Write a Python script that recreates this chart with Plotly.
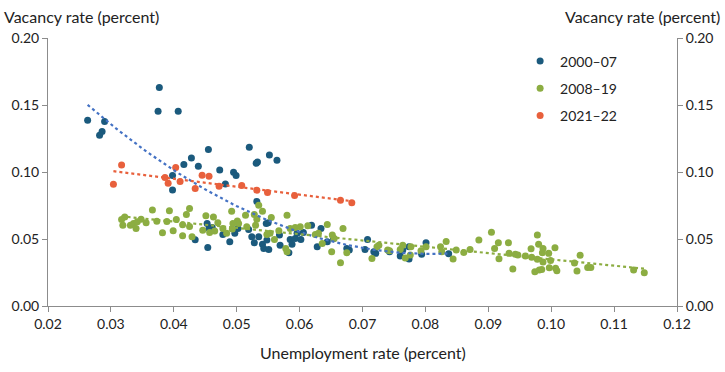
import numpy as np
import plotly.graph_objects as go

# ---- data (unemployment rate, vacancy rate) ----
u_2000_07 = [0.0263, 0.0377, 0.0375, 0.0407, 0.0290, 0.0286, 0.0282, 0.0455, 0.0520, 0.0552,
             0.0564, 0.0531, 0.0533, 0.0428, 0.0416, 0.0439, 0.0473, 0.0495, 0.0499, 0.0398,
             0.0398, 0.0482, 0.0532, 0.0434, 0.0454, 0.0453, 0.0456, 0.0461, 0.0478, 0.0489,
             0.0497, 0.0502, 0.0519, 0.0524, 0.0528, 0.0535, 0.0541, 0.0543, 0.0548, 0.0551,
             0.0547, 0.0550, 0.0568, 0.0569, 0.0583, 0.0585, 0.0588, 0.0593, 0.0596, 0.0602,
             0.0606, 0.0619, 0.0628, 0.0634, 0.0644, 0.0654, 0.0675, 0.0679, 0.0704, 0.0708,
             0.0718, 0.0721, 0.0743, 0.0760, 0.0764, 0.0774, 0.0774, 0.0794, 0.0801, 0.0837]
v_2000_07 = [0.1386, 0.1631, 0.1453, 0.1453, 0.1376, 0.1302, 0.1274, 0.1167, 0.1185, 0.1127,
             0.1088, 0.1065, 0.1075, 0.1105, 0.1056, 0.1043, 0.1015, 0.0998, 0.0974, 0.0974,
             0.0866, 0.0911, 0.0780, 0.0494, 0.0437, 0.0616, 0.0579, 0.0586, 0.0534, 0.0479,
             0.0542, 0.0579, 0.0571, 0.0516, 0.0472, 0.0516, 0.0460, 0.0430, 0.0492, 0.0422,
             0.0616, 0.0621, 0.0529, 0.0454, 0.0397, 0.0497, 0.0460, 0.0504, 0.0542, 0.0497,
             0.0549, 0.0603, 0.0442, 0.0579, 0.0479, 0.0504, 0.0430, 0.0417, 0.0422, 0.0497,
             0.0405, 0.0393, 0.0405, 0.0373, 0.0417, 0.0442, 0.0350, 0.0387, 0.0472, 0.0390]

u_2008_19 = [0.0317, 0.0322, 0.0319, 0.0331, 0.0336, 0.0340, 0.0342, 0.0348, 0.0356, 0.0366,
             0.0373, 0.0382, 0.0389, 0.0393, 0.0399, 0.0404, 0.0414, 0.0414, 0.0420, 0.0425,
             0.0425, 0.0429, 0.0446, 0.0451, 0.0457, 0.0463, 0.0465, 0.0470, 0.0478, 0.0484,
             0.0492, 0.0493, 0.0501, 0.0503, 0.0494, 0.0514, 0.0516, 0.0528, 0.0535, 0.0532,
             0.0530, 0.0541, 0.0555, 0.0553, 0.0548, 0.0560, 0.0567, 0.0580, 0.0578, 0.0580,
             0.0585, 0.0593, 0.0601, 0.0613, 0.0625, 0.0630, 0.0636, 0.0644, 0.0651, 0.0652,
             0.0665, 0.0669, 0.0655, 0.0675, 0.0715, 0.0723, 0.0726, 0.0740, 0.0743, 0.0760,
             0.0764, 0.0768, 0.0776, 0.0777, 0.0793, 0.0801, 0.0824, 0.0826, 0.0833, 0.0844,
             0.0849, 0.0861, 0.0871, 0.0885, 0.0905, 0.0910, 0.0916, 0.0917, 0.0932, 0.0933,
             0.0939, 0.0943, 0.0947, 0.0959, 0.0968, 0.0969, 0.0974, 0.0978, 0.0978, 0.0980,
             0.0981, 0.0985, 0.0986, 0.0987, 0.0987, 0.0996, 0.0997, 0.0999, 0.1006, 0.1007,
             0.1009, 0.1037, 0.1041, 0.1046, 0.1058, 0.1063, 0.1131, 0.1148]
v_2008_19 = [0.0646, 0.0665, 0.0603, 0.0603, 0.0616, 0.0579, 0.0628, 0.0648, 0.0621, 0.0717,
             0.0633, 0.0546, 0.0631, 0.0710, 0.0561, 0.0646, 0.0606, 0.0524, 0.0683, 0.0728,
             0.0594, 0.0516, 0.0566, 0.0673, 0.0549, 0.0665, 0.0559, 0.0621, 0.0579, 0.0542,
             0.0708, 0.0574, 0.0635, 0.0616, 0.0616, 0.0678, 0.0591, 0.0683, 0.0752, 0.0648,
             0.0603, 0.0708, 0.0661, 0.0542, 0.0534, 0.0497, 0.0561, 0.0678, 0.0430, 0.0405,
             0.0579, 0.0586, 0.0591, 0.0598, 0.0534, 0.0542, 0.0467, 0.0609, 0.0405, 0.0529,
             0.0323, 0.0579, 0.0504, 0.0397, 0.0355, 0.0442, 0.0454, 0.0417, 0.0412, 0.0422,
             0.0454, 0.0358, 0.0380, 0.0442, 0.0412, 0.0442, 0.0442, 0.0405, 0.0482, 0.0350,
             0.0417, 0.0400, 0.0422, 0.0492, 0.0551, 0.0430, 0.0472, 0.0352, 0.0472, 0.0393,
             0.0276, 0.0387, 0.0380, 0.0373, 0.0427, 0.0363, 0.0256, 0.0529, 0.0348, 0.0460,
             0.0268, 0.0273, 0.0397, 0.0430, 0.0328, 0.0393, 0.0285, 0.0340, 0.0434, 0.0281,
             0.0263, 0.0320, 0.0261, 0.0378, 0.0288, 0.0288, 0.0268, 0.0248]

u_2021_22 = [0.0317, 0.0304, 0.0403, 0.0386, 0.0391, 0.0410, 0.0434, 0.0445, 0.0456, 0.0472,
             0.0508, 0.0532, 0.0549, 0.0592, 0.0665, 0.0683]
v_2021_22 = [0.1053, 0.0909, 0.1033, 0.0959, 0.0916, 0.0929, 0.0877, 0.0976, 0.0969, 0.0894,
             0.0899, 0.0864, 0.0847, 0.0825, 0.0790, 0.0770]

series_names = ["2000\u201307", "2008\u201319", "2021\u201322"]
x_ticks = [0.02, 0.03, 0.04, 0.05, 0.06, 0.07, 0.08, 0.09, 0.10, 0.11, 0.12]
y_ticks = [0.00, 0.05, 0.10, 0.15, 0.20]

C_BLUE = "#1b5a7d"
C_GREEN = "#8cad42"
C_ORANGE = "#e8603c"
C_BLUE_TREND = "#4472c4"

FONT = "Lato, Open Sans, sans-serif"
TXT = "#222222"

fig = go.Figure()

def add_points(x, y, name, color):
    fig.add_trace(go.Scatter(x=x, y=y, mode="markers", name=name,
                             legendgroup=name,
                             marker=dict(color=color, size=7, line=dict(width=0))))

add_points(u_2000_07, v_2000_07, series_names[0], C_BLUE)
add_points(u_2008_19, v_2008_19, series_names[1], C_GREEN)
add_points(u_2021_22, v_2021_22, series_names[2], C_ORANGE)

# trend lines fitted from the data (polynomial least squares)
def poly_fit(x, y, deg):
    x = np.asarray(x); y = np.asarray(y)
    coef = np.polyfit(x, y, deg)
    xs = np.linspace(x.min(), x.max(), 120)
    return xs, np.polyval(coef, xs)

for (xs, ys), col in [(poly_fit(u_2000_07, v_2000_07, 2), C_BLUE_TREND),
                      (poly_fit(u_2008_19, v_2008_19, 1), C_GREEN),
                      (poly_fit(u_2021_22, v_2021_22, 1), C_ORANGE)]:
    fig.add_trace(go.Scatter(x=xs, y=ys, mode="lines", showlegend=False, hoverinfo="skip",
                             line=dict(color=col, width=2.2, dash="dot")))

# invisible trace to carry the right axis
fig.add_trace(go.Scatter(x=[0.02], y=[0.0], yaxis="y2", mode="markers",
                         marker=dict(opacity=0), showlegend=False, hoverinfo="skip"))

axis_common = dict(showline=True, linecolor="#8c8c8c", linewidth=1, ticks="outside",
                   tickcolor="#8c8c8c", ticklen=5, showgrid=False, zeroline=False,
                   tickfont=dict(family=FONT, size=14, color=TXT), tickformat=".2f")

L, T, PW, PH = 47.5, 37.5, 629.5, 268.5

def px_x(p):
    return (p - L) / PW

def px_y(p):
    return (T + PH - p) / PH

fig.update_layout(
    width=725, height=372,
    margin=dict(l=L, r=725 - L - PW, t=T, b=372 - T - PH),
    paper_bgcolor="white", plot_bgcolor="white",
    font=dict(family=FONT, size=14, color=TXT),
    xaxis=dict(range=[0.02, 0.12], tickvals=x_ticks, **axis_common),
    yaxis=dict(range=[0, 0.2], tickvals=y_ticks, **axis_common),
    yaxis2=dict(range=[0, 0.2], tickvals=y_ticks, overlaying="y", side="right", **axis_common),
    legend=dict(x=px_x(520), y=px_y(45), xanchor="left", yanchor="top",
                bgcolor="rgba(0,0,0,0)",
                font=dict(family=FONT, size=14, color=TXT), tracegroupgap=6,
                itemwidth=30),
    showlegend=True,
    annotations=[
        dict(text="Vacancy rate (percent)", xref="paper", yref="paper",
             x=px_x(1), y=px_y(16), xanchor="left", yanchor="middle",
             showarrow=False, font=dict(family=FONT, size=16, color=TXT)),
        dict(text="Vacancy rate (percent)", xref="paper", yref="paper",
             x=px_x(722), y=px_y(16), xanchor="right", yanchor="middle",
             showarrow=False, font=dict(family=FONT, size=16, color=TXT)),
        dict(text="Unemployment rate (percent)", xref="paper", yref="paper",
             x=px_x(363), y=px_y(353), xanchor="center", yanchor="middle",
             showarrow=False, font=dict(family=FONT, size=16, color=TXT)),
    ],
)

fig.write_html("out.html", config={"displayModeBar": False},
               post_script="document.body.style.margin='0';")
